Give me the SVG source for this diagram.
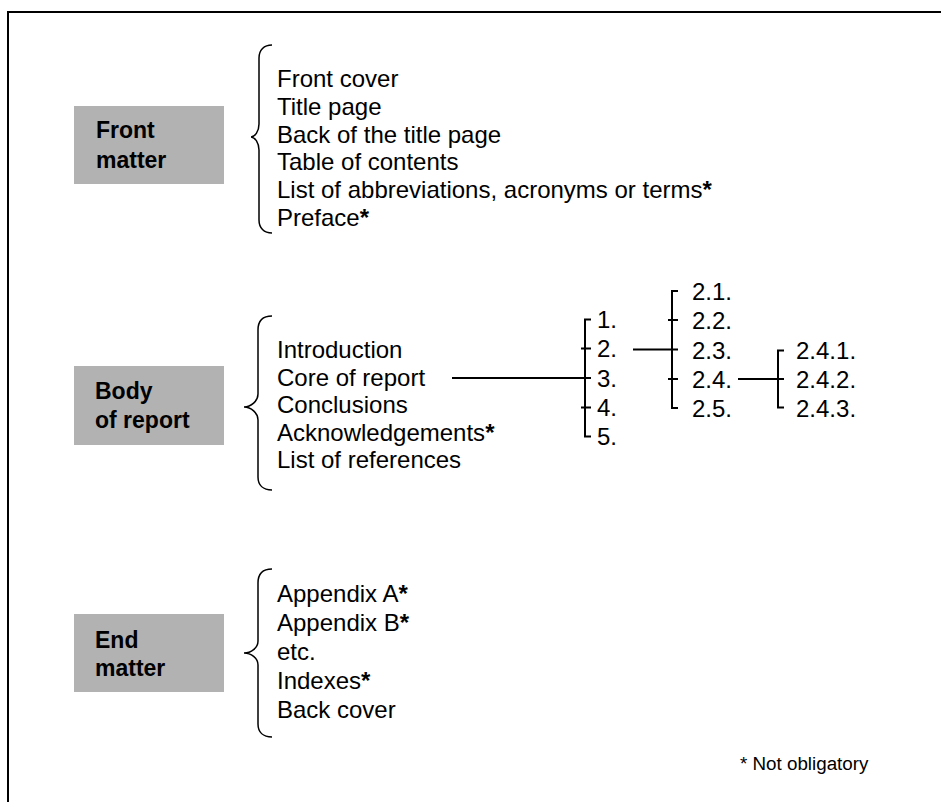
<svg xmlns="http://www.w3.org/2000/svg" width="941" height="802" viewBox="0 0 941 802">
<style>
.box{fill:#b2b2b2}
.lbl{font-family:"Liberation Sans",Arial,sans-serif;font-size:23px;font-weight:bold;fill:#000}
.it{font-family:"Liberation Sans",Arial,sans-serif;font-size:24px;fill:#000}
.st{font-weight:bold}
.ln{fill:none;stroke:#000;stroke-width:2}
.br{fill:none;stroke:#000;stroke-width:1.5}
.fn{font-family:"Liberation Sans",Arial,sans-serif;font-size:18.8px;fill:#000}
</style>
<rect width="941" height="802" fill="#fff"/>
<path class="ln" d="M8,802 V12 H941"/>

<g id="front">
<rect class="box" x="74" y="106" width="150" height="78"/>
<text class="lbl" x="96" y="138">Front</text>
<text class="lbl" x="96" y="168">matter</text>
<path class="br" d="M272,45 C264,45 259,50 259,58 L259,124 C259,131 255,137 251,137 C255,137 259,143 259,150 L259,220 C259,228 264,233 272,233"/>
<text class="it" x="277" y="87">Front cover</text>
<text class="it" x="277" y="114.8">Title page</text>
<text class="it" x="277" y="142.6">Back of the title page</text>
<text class="it" x="277" y="170.4">Table of contents</text>
<text class="it" x="277" y="198.2">List of abbreviations, acronyms or terms<tspan class="st">*</tspan></text>
<text class="it" x="277" y="226">Preface<tspan class="st">*</tspan></text>
</g>

<g id="body">
<rect class="box" x="74" y="366" width="150" height="79"/>
<text class="lbl" x="95" y="399">Body</text>
<text class="lbl" x="95" y="428">of report</text>
<path class="br" d="M272,316 C263,316 258,321 258,330 L258,394 C258,401 251,407 244,407 C251,407 258,413 258,420 L258,477 C258,485 263,490 272,490"/>
<text class="it" x="277" y="358">Introduction</text>
<text class="it" x="277" y="385.6">Core of report</text>
<text class="it" x="277" y="413.2">Conclusions</text>
<text class="it" x="277" y="440.8">Acknowledgements<tspan class="st">*</tspan></text>
<text class="it" x="277" y="468.4">List of references</text>
</g>

<g id="end">
<rect class="box" x="74" y="614" width="150" height="78"/>
<text class="lbl" x="95" y="648">End</text>
<text class="lbl" x="95" y="676">matter</text>
<path class="br" d="M272,569 C263,569 258,574 258,583 L258,641 C258,648 251,653 244,653 C251,653 258,658 258,665 L258,724 C258,732 263,737 272,737"/>
<text class="it" x="277" y="602">Appendix A<tspan class="st">*</tspan></text>
<text class="it" x="277" y="631">Appendix B<tspan class="st">*</tspan></text>
<text class="it" x="277" y="660">etc.</text>
<text class="it" x="277" y="689">Indexes<tspan class="st">*</tspan></text>
<text class="it" x="277" y="718">Back cover</text>
</g>

<g id="level1">
<text class="it" x="597" y="328">1.</text>
<text class="it" x="597" y="357.25">2.</text>
<text class="it" x="597" y="386.5">3.</text>
<text class="it" x="597" y="415.75">4.</text>
<text class="it" x="597" y="445">5.</text>
</g>
<g id="level2">
<text class="it" x="692" y="300">2.1.</text>
<text class="it" x="692" y="329.25">2.2.</text>
<text class="it" x="692" y="358.5">2.3.</text>
<text class="it" x="692" y="387.75">2.4.</text>
<text class="it" x="692" y="417">2.5.</text>
</g>
<g id="level3">
<text class="it" x="796" y="358.5">2.4.1.</text>
<text class="it" x="796" y="387.75">2.4.2.</text>
<text class="it" x="796" y="417">2.4.3.</text>
</g>

<g id="connectors">
<path class="ln" d="M452,378 H585"/>
<path class="ln" d="M591,319.5 H585 V436.5 H591"/>
<path class="ln" d="M581,348.5 H591 M581,407.5 H591 M585,378 H591"/>
<path class="ln" d="M633,349.5 H678"/>
<path class="ln" d="M678,291 H672 V408 H678"/>
<path class="ln" d="M668,320 H678 M668,379 H678"/>
<path class="ln" d="M738,379 H784"/>
<path class="ln" d="M784,350.5 H778 V407.5 H784"/>
</g>

<text class="fn" x="740" y="770">* Not obligatory</text>
</svg>
